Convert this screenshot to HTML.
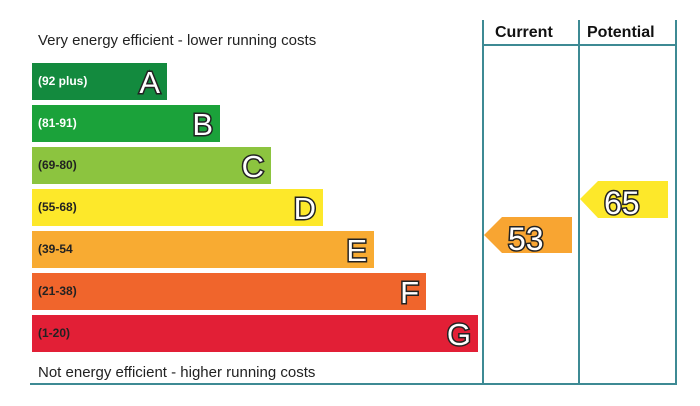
<!DOCTYPE html><html><head><style>
body{margin:0;width:700px;height:406px;background:#fff;position:relative;overflow:hidden;font-family:"Liberation Sans",sans-serif}
.t{position:absolute;left:38px;font-size:15px;color:#222}
.b{position:absolute;left:32px;height:37px}
.b span{position:absolute;left:6px;top:11px;font-size:12px;font-weight:bold;color:#fff}
.b i{position:absolute;right:7px;top:2px;font-style:normal;font-size:31px;color:#fff;-webkit-text-stroke:3px #222;paint-order:stroke fill;font-weight:normal}
.l{position:absolute;background:#3d8a94}
.h{position:absolute;top:24px;font-size:16px;font-weight:bold;color:#111}
</style></head><body>
<div class="t" style="top:32px">Very energy efficient - lower running costs</div>
<div class="t" style="top:364px">Not energy efficient - higher running costs</div>
<div class="b" style="top:63px;width:135px;background:#138a3e"><span>(92 plus)</span><i>A</i></div>
<div class="b" style="top:105px;width:188px;background:#1ba23a"><span>(81-91)</span><i>B</i></div>
<div class="b" style="top:147px;width:239px;background:#8cc43f"><span style="color:#222">(69-80)</span><i>C</i></div>
<div class="b" style="top:189px;width:291px;background:#fde82a"><span style="color:#222">(55-68)</span><i>D</i></div>
<div class="b" style="top:231px;width:342px;background:#f8ab32"><span style="color:#222">(39-54</span><i>E</i></div>
<div class="b" style="top:273px;width:394px;background:#f0652c"><span style="color:#222">(21-38)</span><i>F</i></div>
<div class="b" style="top:315px;width:446px;background:#e21f36"><span style="color:#222">(1-20)</span><i>G</i></div>
<div class="l" style="left:482px;top:20px;width:2px;height:365px"></div>
<div class="l" style="left:578px;top:20px;width:2px;height:365px"></div>
<div class="l" style="left:675px;top:20px;width:2px;height:365px"></div>
<div class="l" style="left:482px;top:44px;width:195px;height:2px"></div>
<div class="l" style="left:30px;top:383px;width:647px;height:2px"></div>
<div class="h" style="left:495px">Current</div>
<div class="h" style="left:587px">Potential</div>
<svg style="position:absolute;left:0;top:0" width="700" height="406">
<polygon points="484,235 502,217 572,217 572,253 502,253" fill="#f8a532"/>
<polygon points="580,199 598,181 668,181 668,218 598,218" fill="#fde82a"/>
<text x="508" y="250" font-size="32" font-family="Liberation Sans" fill="#fff" stroke="#222" stroke-width="3" paint-order="stroke fill">53</text>
<text x="604" y="214" font-size="32" font-family="Liberation Sans" fill="#fff" stroke="#222" stroke-width="3" paint-order="stroke fill">65</text>
</svg>
</body></html>
